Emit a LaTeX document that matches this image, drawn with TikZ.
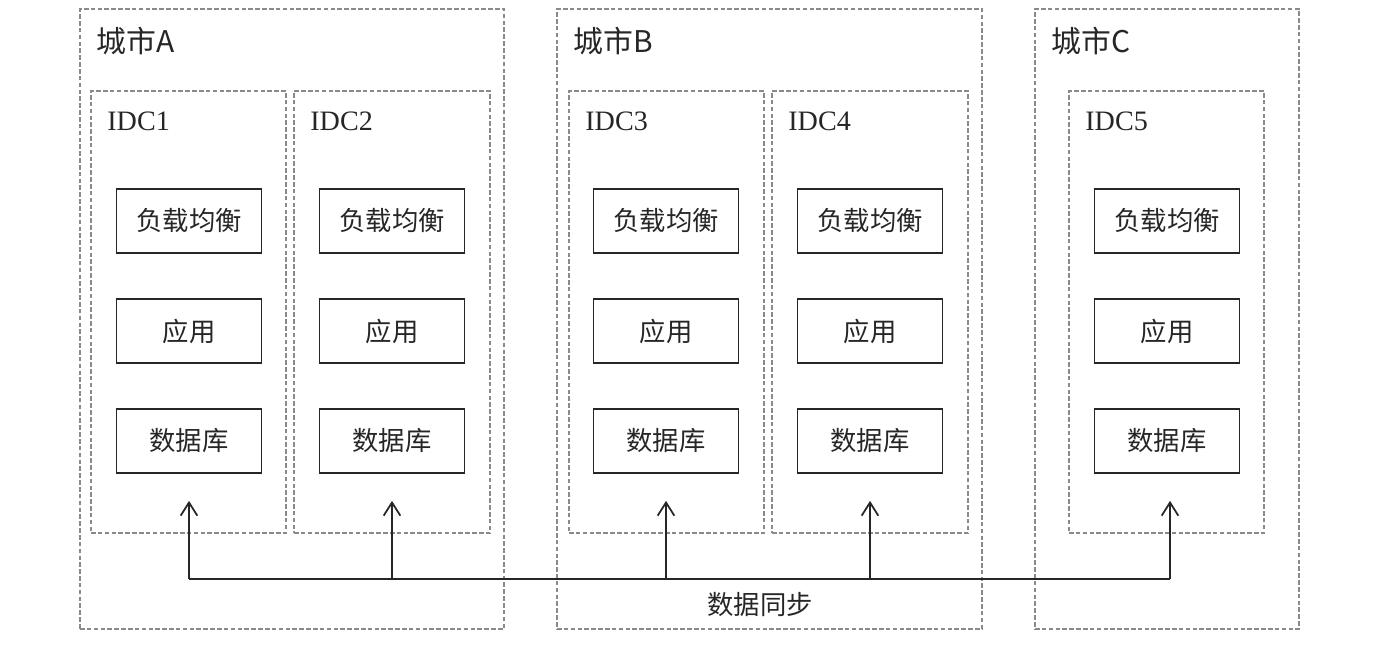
\documentclass[tikz,border=0pt]{standalone}
\usepackage{fontspec}
\setmainfont{Liberation Serif}
\newfontfamily\cjk{Noto Sans CJK SC}
\usetikzlibrary{arrows.meta,fit,calc}
\definecolor{dashgray}{HTML}{8A8A8A}
\definecolor{ink}{HTML}{262626}
\begin{document}
\begin{tikzpicture}[x=0.02cm,y=-0.02cm,
  citybox/.style={draw=dashgray, line width=0.7pt, dash pattern=on 2.6pt off 1.3pt, inner sep=0pt},
  idcbox/.style={draw=dashgray, line width=0.7pt, dash pattern=on 2.6pt off 1.3pt, inner sep=0pt},
  comp/.style={draw=ink, line width=1pt, minimum width=2.9cm, minimum height=1.28cm, inner sep=0pt, font=\cjk\fontsize{15}{17}\selectfont, text=ink},
  citylabel/.style={anchor=west, inner sep=0pt, font=\cjk\fontsize{17}{19}\selectfont, text=ink},
  idclabel/.style={anchor=west, inner sep=0pt, font=\fontsize{16}{18}\selectfont, text=ink},
  arr/.style={draw=ink, line width=1pt, -{Straight Barb[length=7.5pt,width=9.5pt,line width=1pt]}},
  syncline/.style={draw=ink, line width=1pt}
]
\useasboundingbox (0,0) rectangle (1400,651);

% city boxes
\node[citybox, fit={(80,9) (504,629)}] (cityA) {};
\node[citybox, fit={(557,9) (982,629)}] (cityB) {};
\node[citybox, fit={(1035,9) (1299,629)}] (cityC) {};
\node[citylabel] (labA) at (96,41) {城市A};
\node[citylabel] (labB) at (573,41) {城市B};
\node[citylabel] (labC) at (1051,41) {城市C};

% IDC boxes
\node[idcbox, fit={(91,91) (286,533)}] (idc1) {};
\node[idcbox, fit={(294,91) (490,533)}] (idc2) {};
\node[idcbox, fit={(569,91) (764,533)}] (idc3) {};
\node[idcbox, fit={(772,91) (968,533)}] (idc4) {};
\node[idcbox, fit={(1069,91) (1264,533)}] (idc5) {};
\node[idclabel] (lid1) at (107,121) {IDC1};
\node[idclabel] (lid2) at (310,121) {IDC2};
\node[idclabel] (lid3) at (585,121) {IDC3};
\node[idclabel] (lid4) at (788,121) {IDC4};
\node[idclabel] (lid5) at (1085,121) {IDC5};

% components
\foreach \i/\x in {1/189, 2/392, 3/666, 4/870, 5/1167} {
  \node[comp] (lb\i) at (\x,221) {负载均衡};
  \node[comp] (app\i) at (\x,331) {应用};
  \node[comp] (db\i) at (\x,441) {数据库};
}

% data sync
\coordinate (syncL) at (189,579);
\coordinate (syncR) at (1170,579);
\draw[syncline] (syncL) -- (syncR);
\foreach \i in {1,2,3,4} {
  \draw[arr] (db\i.south |- syncL) -- ($(db\i.south)+(0,27)$);
}
\draw[arr] (syncR) -- ($(db5.south -| syncR)+(0,27)$);
\node[inner sep=0pt, font=\cjk\fontsize{15}{17}\selectfont, text=ink] (synclab) at (760,605) {数据同步};
\end{tikzpicture}
\end{document}
